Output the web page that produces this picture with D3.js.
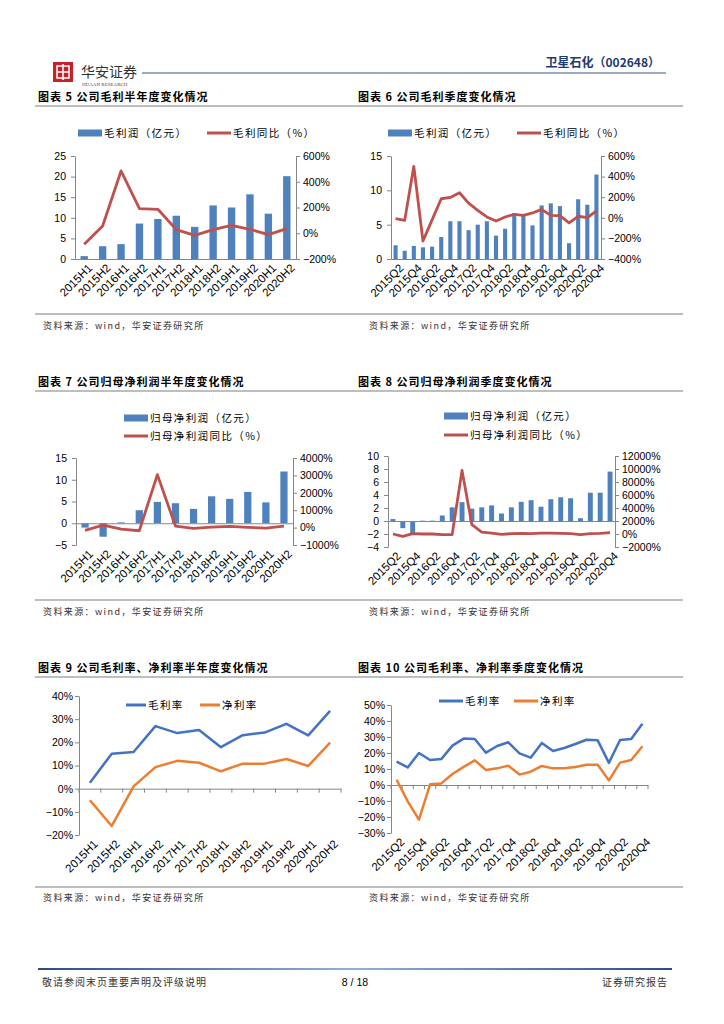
<!DOCTYPE html>
<html>
<head>
<meta charset="utf-8">
<script src="https://cdn.jsdelivr.net/npm/d3@7"></script>
<style>
  body { margin: 0; background: #fff; }
  svg { display: block; }
</style>
</head>
<body>
<script>
// 数据：半年度 / 季度
const halfYears = ["2015H1","2015H2","2016H1","2016H2","2017H1","2017H2","2018H1","2018H2","2019H1","2019H2","2020H1","2020H2"];
const quarters = ["2015Q2","2015Q3","2015Q4","2016Q1","2016Q2","2016Q3","2016Q4","2017Q1","2017Q2","2017Q3","2017Q4",
                  "2018Q1","2018Q2","2018Q3","2018Q4","2019Q1","2019Q2","2019Q3","2019Q4","2020Q1","2020Q2","2020Q3","2020Q4"];

// 图表5 毛利（亿元）与同比（%）
const gpHalf    = [0.7, 3.1, 3.6, 8.6, 9.7, 10.5, 7.8, 13.0, 12.5, 15.7, 11.0, 20.1];
const gpHalfYoY = [-86, 56, 484, 191, 186, 28, -16, 28, 62, 31, -11, 36];

// 图表6 毛利季度
const gpQ    = [2.0, 1.2, 1.9, 1.7, 1.8, 3.2, 5.5, 5.5, 4.2, 5.0, 5.5, 3.4, 4.4, 6.7, 6.4, 4.9, 7.8, 8.1, 7.7, 2.3, 8.7, 7.9, 12.3];
const gpQYoY = [-8, -25, 500, -225, -20, 185, 198, 243, 143, 72, 8, -31, 8, 34, 24, 47, 82, 24, 21, -50, 15, 1, 66];

// 图表7 归母净利润半年度
const npHalf    = [-1.0, -3.1, 0.2, 3.0, 4.9, 4.6, 3.3, 6.2, 5.6, 7.2, 4.8, 11.9];
const npHalfYoY = [-160, 145, -84, -180, 3045, 88, -46, 30, 69, 11, -27, 88];

// 图表8 归母净利润季度
const npQ    = [0.3, -1.1, -1.9, 0.05, 0.05, 0.85, 2.1, 2.9, 1.9, 2.1, 2.4, 1.15, 2.1, 2.95, 3.2, 2.2, 3.35, 3.65, 3.5, 0.43, 4.35, 4.35, 7.6];
const npQYoY = [0, -360, 50, 0, 0, -100, -100, 9770, 1430, 300, 150, -50, 50, 100, 50, 150, 150, 100, 50, -100, 50, 100, 200];

// 图表9 毛利率、净利率半年度（%）
const gmHalf = [2.6, 15.1, 15.8, 27.0, 24.0, 25.3, 17.9, 23.1, 24.2, 28.0, 23.0, 33.6];
const nmHalf = [-5.0, -16.1, 1.0, 9.3, 12.0, 11.2, 7.5, 10.8, 10.8, 12.8, 9.8, 19.9];

// 图表10 毛利率、净利率季度（%）
const gmQ = [14.6, 11.0, 20.0, 15.6, 16.2, 24.6, 29.0, 28.8, 20.2, 24.4, 26.7, 19.8, 17.1, 26.3, 21.3, 23.1, 25.6, 28.3, 27.9, 13.8, 28.1, 28.8, 38.3];
const nmQ = [3.3, -10.2, -21.7, 0.4, 1.0, 6.9, 11.3, 15.4, 9.4, 10.4, 12.1, 6.5, 8.3, 11.9, 10.4, 10.4, 11.3, 12.7, 12.7, 2.9, 14.0, 15.6, 24.2];

const BAR = "#4F81BD", RED = "#C0504D", BLUE = "#4472C4", ORANGE = "#ED7D31", AXIS = "#868686";
const CJK = "'Noto Sans CJK SC', sans-serif";
const NUM = "'Liberation Sans', Arial, sans-serif";

const svg = d3.select("body").append("svg").attr("width", 724).attr("height", 1024);

// ---- 页眉 ----
const logo = svg.append("g");
logo.append("rect").attr("x", 53).attr("y", 62).attr("width", 20).attr("height", 20).attr("fill", "#C8202B");
logo.append("rect").attr("x", 57).attr("y", 66).attr("width", 12).attr("height", 12).attr("fill", "none").attr("stroke", "#fff").attr("stroke-width", 1.5);
logo.append("line").attr("x1", 63).attr("x2", 63).attr("y1", 64).attr("y2", 80).attr("stroke", "#fff").attr("stroke-width", 1.5);
logo.append("line").attr("x1", 57).attr("x2", 69).attr("y1", 72).attr("y2", 72).attr("stroke", "#fff").attr("stroke-width", 1.5);
logo.append("text").attr("x", 81).attr("y", 77).attr("font-family", CJK).attr("font-size", 14).attr("fill", "#333").text("华安证券");
logo.append("text").attr("x", 82).attr("y", 86).attr("font-family", "'Liberation Serif', serif").attr("font-size", 5).attr("fill", "#444").text("HUAAN RESEARCH");
svg.append("line").attr("x1", 142).attr("x2", 666).attr("y1", 73).attr("y2", 73).attr("stroke", "#3B5488").attr("stroke-width", 1);
svg.append("text").attr("x", 660).attr("y", 67).attr("text-anchor", "end").attr("font-family", CJK).attr("font-weight", "bold")
  .attr("font-size", 12).attr("fill", "#1F3A6E").text("卫星石化（002648）");

// ---- 标题 / 来源 ----
const titles = [
  ["图表 5 公司毛利半年度变化情况", "图表 6 公司毛利季度变化情况"],
  ["图表 7 公司归母净利润半年度变化情况", "图表 8 公司归母净利润季度变化情况"],
  ["图表 9 公司毛利率、净利率半年度变化情况", "图表 10 公司毛利率、净利率季度变化情况"]
];
const titleY = [101, 386, 672], titleLineY = [106, 391, 677], srcLineY = [314, 600, 887], srcY = [329, 615, 901];
titles.forEach((row, r) => {
  [[38, row[0]], [358, row[1]]].forEach(([x, t]) =>
    svg.append("text").attr("x", x).attr("y", titleY[r]).attr("font-family", CJK).attr("font-weight", "bold")
      .attr("font-size", 11).attr("letter-spacing", 1).text(t));
  svg.append("line").attr("x1", 35).attr("x2", 683).attr("y1", titleLineY[r]).attr("y2", titleLineY[r]).attr("stroke", "#7F7F7F").attr("stroke-width", 1.2);
  svg.append("line").attr("x1", 35).attr("x2", 683).attr("y1", srcLineY[r]).attr("y2", srcLineY[r]).attr("stroke", "#7F7F7F").attr("stroke-width", 1.2);
  [43, 369].forEach(x => svg.append("text").attr("x", x).attr("y", srcY[r]).attr("font-family", CJK).attr("font-size", 9)
    .attr("letter-spacing", 1.4).attr("fill", "#333").text("资料来源：wind，华安证券研究所"));
});

function styleAxis(sel) {
  sel.selectAll("path, line").attr("stroke", AXIS);
  sel.selectAll("text").attr("font-family", NUM).attr("font-size", 10.5).attr("fill", "#000");
}

function xLabels(g, x, cats, every, y) {
  g.append("g").selectAll("text").data(cats.filter((c, i) => i % every === 0)).join("text")
    .attr("transform", c => `translate(${x(c) + x.bandwidth() / 2 + 3},${y + 4}) rotate(-45)`)
    .attr("text-anchor", "end").attr("dy", "0.7em")
    .attr("font-family", NUM).attr("font-size", 11.5).text(c => c);
}

function legend(items) {
  items.forEach(it => {
    if (it.type === "bar") {
      svg.append("rect").attr("x", it.x).attr("y", it.y - 3.5).attr("width", it.w || 24).attr("height", 7).attr("fill", it.color);
    } else {
      svg.append("line").attr("x1", it.x).attr("x2", it.x + (it.w || 24)).attr("y1", it.y).attr("y2", it.y)
        .attr("stroke", it.color).attr("stroke-width", 3);
    }
    svg.append("text").attr("x", it.x + (it.w || 24) + 2).attr("y", it.y).attr("dy", "0.35em")
      .attr("font-family", CJK).attr("font-size", 10.5).attr("letter-spacing", 1.4).text(it.label);
  });
}

// 柱 + 折线 双轴图
function combo(o) {
  const g = svg.append("g");
  const x = d3.scaleBand().domain(o.cats).range([o.l, o.r]).paddingInner(o.pad).paddingOuter(o.pad / 2);
  const yL = d3.scaleLinear().domain(o.lDom).range([o.b, o.t]);
  const yR = d3.scaleLinear().domain(o.rDom).range([o.b, o.t]);

  g.append("g").selectAll("rect").data(o.bars).join("rect")
    .attr("x", (d, i) => x(o.cats[i])).attr("width", x.bandwidth())
    .attr("y", d => yL(Math.max(0, d))).attr("height", d => Math.abs(yL(d) - yL(0)))
    .attr("fill", BAR);

  g.append("g").attr("transform", `translate(0,${yL(0)})`)
    .call(d3.axisBottom(x).tickSize(0).tickSizeOuter(0).tickFormat("")).call(styleAxis);
  g.append("g").attr("transform", `translate(${o.l},0)`)
    .call(d3.axisLeft(yL).tickValues(o.lTicks).tickSize(4).tickSizeOuter(0).tickPadding(5).tickFormat(d3.format("d")))
    .call(styleAxis);
  g.append("g").attr("transform", `translate(${o.r},0)`)
    .call(d3.axisRight(yR).tickValues(o.rTicks).tickSize(4).tickSizeOuter(0).tickPadding(3).tickFormat(d => d3.format("d")(d) + "%"))
    .call(styleAxis);

  const line = d3.line().x((d, i) => x(o.cats[i]) + x.bandwidth() / 2).y(d => yR(d));
  g.append("path").datum(o.yoy).attr("d", line).attr("fill", "none").attr("stroke", RED)
    .attr("stroke-width", 2.8).attr("stroke-linejoin", "round");

  xLabels(g, x, o.cats, o.every, o.b);
  legend(o.legend);
}

// 双折线图
function lines2(o) {
  const g = svg.append("g");
  const x = d3.scaleBand().domain(o.cats).range([o.l, o.r]);
  const y = d3.scaleLinear().domain(o.dom).range([o.b, o.t]);

  g.append("g").attr("transform", `translate(0,${y(0)})`)
    .call(d3.axisBottom(x).tickSize(0).tickSizeOuter(0).tickFormat("")).call(styleAxis);
  g.append("g").selectAll("line").data(d3.range(o.cats.length + 1)).join("line")
    .attr("x1", i => o.l + i * x.step()).attr("x2", i => o.l + i * x.step())
    .attr("y1", y(0)).attr("y2", y(0) + 4).attr("stroke", AXIS);
  g.append("g").attr("transform", `translate(${o.l},0)`)
    .call(d3.axisLeft(y).tickValues(o.ticks).tickSize(4).tickSizeOuter(0).tickPadding(2).tickFormat(d => d3.format("d")(d) + "%"))
    .call(styleAxis);

  const line = d3.line().x((d, i) => x(o.cats[i]) + x.bandwidth() / 2).y(d => y(d));
  [[o.a, BLUE], [o.b2, ORANGE]].forEach(([s, c]) => {
    g.append("path").datum(s).attr("d", line).attr("fill", "none").attr("stroke", c)
      .attr("stroke-width", 2.5).attr("stroke-linejoin", "round");
  });

  xLabels(g, x, o.cats, o.every, o.b);
  legend(o.legend);
}

combo({
  cats: halfYears, bars: gpHalf, yoy: gpHalfYoY, every: 1, pad: 0.6,
  l: 75, r: 296, t: 156, b: 259,
  lDom: [0, 25], lTicks: d3.range(0, 26, 5), rDom: [-200, 600], rTicks: d3.range(-200, 601, 200),
  legend: [{type: "bar", x: 78, y: 133, color: BAR, label: "毛利润（亿元）"},
           {type: "line", x: 207, y: 133, color: RED, label: "毛利同比（%）"}]
});

combo({
  cats: quarters, bars: gpQ, yoy: gpQYoY, every: 2, pad: 0.55,
  l: 391, r: 601, t: 156, b: 259,
  lDom: [0, 15], lTicks: d3.range(0, 16, 5), rDom: [-400, 600], rTicks: d3.range(-400, 601, 200),
  legend: [{type: "bar", x: 388, y: 133, color: BAR, label: "毛利润（亿元）"},
           {type: "line", x: 517, y: 133, color: RED, label: "毛利同比（%）"}]
});

combo({
  cats: halfYears, bars: npHalf, yoy: npHalfYoY, every: 1, pad: 0.6,
  l: 76, r: 293, t: 458, b: 545,
  lDom: [-5, 15], lTicks: d3.range(-5, 16, 5), rDom: [-1000, 4000], rTicks: d3.range(-1000, 4001, 1000),
  legend: [{type: "bar", x: 124, y: 418, color: BAR, label: "归母净利润（亿元）"},
           {type: "line", x: 124, y: 436, color: RED, label: "归母净利润同比（%）"}]
});

combo({
  cats: quarters, bars: npQ, yoy: npQYoY, every: 2, pad: 0.5,
  l: 388, r: 615, t: 456, b: 547,
  lDom: [-4, 10], lTicks: d3.range(-4, 11, 2), rDom: [-2000, 12000], rTicks: d3.range(-2000, 12001, 2000),
  legend: [{type: "bar", x: 444, y: 416, color: BAR, label: "归母净利润（亿元）"},
           {type: "line", x: 444, y: 435, color: RED, label: "归母净利润同比（%）"}]
});

lines2({
  cats: halfYears, a: gmHalf, b2: nmHalf, every: 1,
  l: 79, r: 341, t: 696, b: 835, dom: [-20, 40], ticks: d3.range(-20, 41, 10),
  legend: [{type: "line", x: 126, y: 705, w: 20, color: BLUE, label: "毛利率"},
           {type: "line", x: 200, y: 705, w: 20, color: ORANGE, label: "净利率"}]
});

lines2({
  cats: quarters, a: gmQ, b2: nmQ, every: 2,
  l: 391, r: 648, t: 705, b: 833, dom: [-30, 50], ticks: d3.range(-30, 51, 10),
  legend: [{type: "line", x: 439, y: 701, color: BLUE, label: "毛利率"},
           {type: "line", x: 514, y: 701, color: ORANGE, label: "净利率"}]
});

// ---- 页脚 ----
const grad = svg.append("defs").append("linearGradient").attr("id", "foot");
grad.append("stop").attr("offset", "0%").attr("stop-color", "#2E4C7E");
grad.append("stop").attr("offset", "50%").attr("stop-color", "#8FB1D9");
grad.append("stop").attr("offset", "100%").attr("stop-color", "#2E4C7E");
svg.append("rect").attr("x", 38).attr("y", 968).attr("width", 634).attr("height", 2).attr("fill", "url(#foot)");
svg.append("text").attr("x", 42).attr("y", 986).attr("font-family", CJK).attr("font-size", 10).attr("letter-spacing", 1).attr("fill", "#333")
  .text("敬请参阅末页重要声明及评级说明");
svg.append("text").attr("x", 355).attr("y", 986).attr("text-anchor", "middle").attr("font-family", NUM).attr("font-size", 10.5).text("8 / 18");
svg.append("text").attr("x", 668).attr("y", 986).attr("text-anchor", "end").attr("font-family", CJK).attr("font-size", 10).attr("letter-spacing", 1).attr("fill", "#333")
  .text("证券研究报告");
</script>
</body>
</html>
